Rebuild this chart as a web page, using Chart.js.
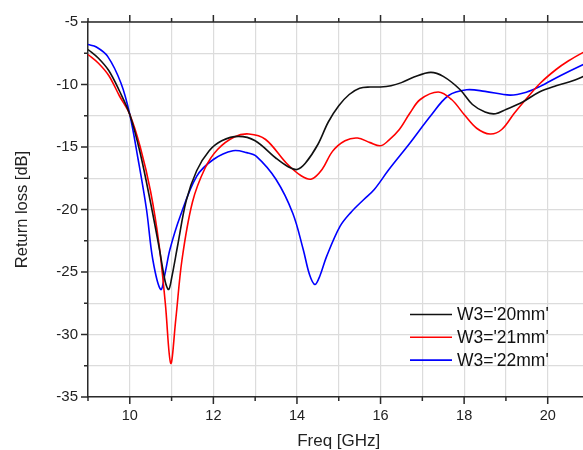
<!DOCTYPE html>
<html><head><meta charset="utf-8">
<script src="https://cdn.jsdelivr.net/npm/chart.js@4"></script>
<style>
html,body{margin:0;padding:0;overflow:hidden;background:#fff;width:583px;height:450px}
#wrap{position:absolute;left:0;top:0;width:600px;height:460px}
</style>
</head><body><div id="wrap"><canvas id="c" width="600" height="460"></canvas></div>
<script>
const seriesLabels = ["W3='20mm'", "W3='21mm'", "W3='22mm'"];
const seriesColors = ['#111111', '#ff0000', '#0000ff'];

const freq20 = [9.0,9.25,9.5,9.75,10.0,10.25,10.5,10.7,10.85,10.93,11.0,11.15,11.35,11.6,11.9,12.2,12.6,13.0,13.5,13.8,14.0,14.2,14.5,14.75,15.0,15.25,15.5,15.75,16.0,16.25,16.5,16.8,17.2,17.5,17.9,18.2,18.5,18.75,19.0,19.4,19.8,20.2,20.6,21.0];
const rl20   = [-7.2,-7.9,-8.9,-10.5,-12.4,-15.5,-19.5,-23.0,-25.8,-26.4,-25.5,-22.8,-19.3,-16.9,-15.3,-14.5,-14.15,-14.5,-15.9,-16.6,-16.8,-16.3,-14.8,-13.0,-11.7,-10.8,-10.3,-10.2,-10.2,-10.1,-9.85,-9.4,-9.03,-9.35,-10.4,-11.6,-12.2,-12.34,-12.0,-11.4,-10.6,-10.1,-9.7,-9.15];

const freq21 = [9.0,9.25,9.5,9.75,10.0,10.25,10.5,10.7,10.85,10.98,11.1,11.25,11.5,11.8,12.1,12.5,12.85,13.25,13.75,14.1,14.35,14.6,14.85,15.15,15.45,15.75,16.0,16.2,16.45,16.7,16.95,17.38,17.7,18.0,18.3,18.62,18.9,19.2,19.5,19.82,20.2,20.5,20.84,21.0];
const rl21   = [-7.6,-8.3,-9.3,-10.9,-12.4,-15.0,-18.6,-22.8,-27.5,-32.3,-28.8,-24.0,-19.4,-16.7,-15.2,-14.2,-13.96,-14.4,-16.3,-17.3,-17.56,-16.8,-15.35,-14.5,-14.28,-14.65,-14.9,-14.45,-13.6,-12.3,-11.2,-10.6,-11.2,-12.4,-13.5,-13.96,-13.6,-12.3,-11.1,-9.9,-8.8,-8.1,-7.45,-7.2];

const freq22 = [9.0,9.2,9.47,9.79,10.0,10.2,10.4,10.55,10.74,10.85,10.96,11.2,11.6,12.0,12.47,12.8,13.03,13.5,13.9,14.15,14.3,14.43,14.55,14.71,15.03,15.3,15.6,15.85,16.2,16.7,17.2,17.62,18.06,18.5,19.1,19.5,19.82,20.3,20.84,21.0];
const rl22   = [-6.8,-7.0,-7.75,-9.9,-12.4,-16.0,-20.0,-24.0,-26.4,-25.0,-23.2,-20.6,-17.35,-16.0,-15.3,-15.45,-15.75,-17.6,-20.3,-23.2,-25.2,-26.0,-25.3,-23.75,-21.35,-20.2,-19.2,-18.4,-16.8,-14.7,-12.5,-10.9,-10.42,-10.55,-10.85,-10.6,-10.15,-9.3,-8.42,-8.2];

const xMin = 9, xMax = 21, xStep = 1;
const xLabelled = [10, 12, 14, 16, 18, 20];
const yMin = -35, yMax = -5, yStep = 2.5;
const yLabelled = [-35, -30, -25, -20, -15, -10, -5];

const FONT = '"Liberation Sans", Arial, sans-serif';

function pts(xs, ys) { return xs.map((v, i) => ({x: v, y: ys[i]})); }

const decoPlugin = {
  id: 'deco',
  afterDraw(chart) {
    const {ctx, chartArea: a, scales: {x, y}} = chart;
    ctx.save();
    ctx.strokeStyle = '#2a2a2a';
    ctx.lineWidth = 1.5;
    ctx.beginPath();
    ctx.moveTo(a.left - 0.75, a.top); ctx.lineTo(a.right, a.top);
    x.ticks.forEach(t => {
      const px = x.getPixelForValue(t.value);
      const L = xLabelled.includes(t.value) ? 7 : 4;
      ctx.moveTo(px, a.bottom); ctx.lineTo(px, a.bottom + L);
      ctx.moveTo(px, a.top); ctx.lineTo(px, a.top - L);
    });
    y.ticks.forEach(t => {
      const py = y.getPixelForValue(t.value);
      const L = yLabelled.includes(t.value) ? 7 : 4;
      ctx.moveTo(a.left, py); ctx.lineTo(a.left - L, py);
    });
    ctx.stroke();

    // legend inside plot
    ctx.font = '17.5px ' + FONT;
    ctx.textBaseline = 'middle';
    ctx.textAlign = 'left';
    chart.data.datasets.forEach((ds, i) => {
      const yy = 314.5 + i * 22.8;
      ctx.strokeStyle = ds.borderColor;
      ctx.lineWidth = 1.6;
      ctx.beginPath(); ctx.moveTo(410, yy); ctx.lineTo(452, yy); ctx.stroke();
      ctx.fillStyle = '#111';
      ctx.fillText(ds.label, 457, yy + 1);
    });
    ctx.restore();
  }
};

new Chart(document.getElementById('c'), {
  type: 'scatter',
  data: {
    datasets: [
      {label: seriesLabels[0], data: pts(freq20, rl20)},
      {label: seriesLabels[1], data: pts(freq21, rl21)},
      {label: seriesLabels[2], data: pts(freq22, rl22)}
    ].map((d, i) => Object.assign(d, {
      showLine: true, borderColor: seriesColors[i], backgroundColor: seriesColors[i],
      borderWidth: 1.6, pointRadius: 0, tension: 0.35, fill: false
    }))
  },
  options: {
    responsive: false,
    animation: false,
    events: [],
    layout: {padding: {top: 22, right: 10.5, left: 0, bottom: 0}},
    plugins: {legend: {display: false}, tooltip: {enabled: false}},
    scales: {
      x: {
        type: 'linear', position: 'bottom', min: xMin, max: xMax,
        afterFit: s => { s.height = 63; },
        ticks: {
          stepSize: xStep, autoSkip: false, maxRotation: 0, padding: 3,
          color: '#222', font: {family: FONT, size: 14.5},
          callback: v => xLabelled.includes(v) ? String(v) : ''
        },
        grid: {color: '#dcdcdc', lineWidth: 1.2, tickLength: 7, tickColor: 'rgba(0,0,0,0)'},
        border: {display: true, color: '#2a2a2a', width: 1.5},
        title: {display: true, text: 'Freq [GHz]', color: '#222',
                font: {family: FONT, size: 17}, padding: {top: 0, bottom: 8}}
      },
      y: {
        type: 'linear', position: 'left', min: yMin, max: yMax,
        afterFit: s => { s.width = 88; },
        ticks: {
          stepSize: yStep, autoSkip: false, padding: 3,
          color: '#222', font: {family: FONT, size: 15},
          callback: v => yLabelled.includes(v) ? String(v) : ''
        },
        grid: {color: '#dcdcdc', lineWidth: 1.2, tickLength: 7, tickColor: 'rgba(0,0,0,0)'},
        border: {display: true, color: '#2a2a2a', width: 1.5},
        title: {display: true, text: 'Return loss [dB]', color: '#222',
                font: {family: FONT, size: 16.5}, padding: {top: 13, bottom: 0}}
      }
    }
  },
  plugins: [decoPlugin]
});
</script>
</body></html>
